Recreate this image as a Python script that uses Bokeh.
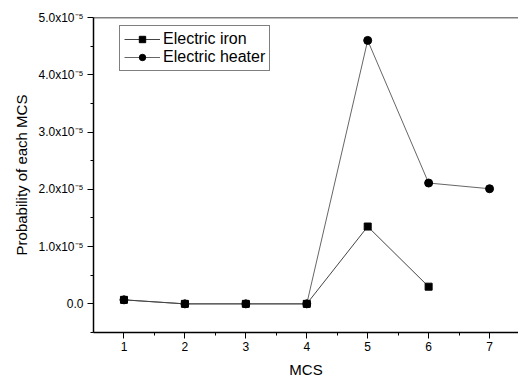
from bokeh.plotting import figure
from bokeh.models import (ColumnDataSource, FixedTicker, CustomJSTickFormatter, Legend, LegendItem,
                          Span, Range1d)
from bokeh.embed import file_html
from bokeh.resources import INLINE

mcs = [1, 2, 3, 4, 5, 6, 7]
iron_x = [1, 2, 3, 4, 5, 6]
iron_y = [0.07e-5, 0.0, 0.0, 0.0, 1.35e-5, 0.30e-5]
heater_x = [1, 2, 3, 4, 5, 6, 7]
heater_y = [0.07e-5, 0.0, 0.0, 0.0, 4.60e-5, 2.11e-5, 2.01e-5]
y_ticks = [0.0, 1e-5, 2e-5, 3e-5, 4e-5, 5e-5]
y_minor = [-0.5e-5, 0.5e-5, 1.5e-5, 2.5e-5, 3.5e-5, 4.5e-5]
x_minor = [1.5, 2.5, 3.5, 4.5, 5.5, 6.5]

FONT = "Liberation Sans"

p = figure(width=518, height=380, output_backend="svg", toolbar_location=None,
           x_range=Range1d(0.5, 7.475), y_range=Range1d(-0.5e-5, 5.0e-5),
           min_border_left=93, min_border_right=0, min_border_top=17, min_border_bottom=48)
p.outline_line_color = None
p.grid.visible = False
p.background_fill_color = "white"
p.border_fill_color = "white"

src_i = ColumnDataSource(dict(x=iron_x, y=iron_y))
src_h = ColumnDataSource(dict(x=heater_x, y=heater_y))

lh = p.line("x", "y", source=src_h, line_color="#666666", line_width=1)
mh = p.scatter("x", "y", source=src_h, marker="circle", size=8, fill_color="black", line_color="black")
li = p.line("x", "y", source=src_i, line_color="#444444", line_width=1)
mi = p.scatter("x", "y", source=src_i, marker="square", size=7, fill_color="black", line_color="black")

xa = p.xaxis[0]
xa.ticker = FixedTicker(ticks=mcs, minor_ticks=x_minor)
xa.axis_label = "MCS"
ya = p.yaxis[0]
ya.ticker = FixedTicker(ticks=y_ticks, minor_ticks=y_minor)
ya.axis_label = "Probability of each MCS"
ya.formatter = CustomJSTickFormatter(code="""
if (Math.abs(tick) < 1e-12) return "0.0";
return (tick*1e5).toFixed(1) + "x10\u207B\u2075";
""")
for ax in (xa, ya):
    ax.axis_line_color = "black"
    ax.axis_line_width = 1.5
    ax.major_tick_line_color = "black"
    ax.minor_tick_line_color = "black"
    ax.major_tick_out = 6
    ax.major_tick_in = 0
    ax.minor_tick_out = 3
    ax.minor_tick_in = 0
    ax.major_label_text_font = FONT
    ax.major_label_text_font_size = "12px"
    ax.major_label_text_color = "black"
    ax.axis_label_text_font = FONT
    ax.axis_label_text_font_size = "15px"
    ax.axis_label_text_font_style = "normal"
    ax.axis_label_text_color = "black"
xa.major_label_standoff = 3
xa.axis_label_standoff = 7
ya.major_label_standoff = 4
ya.axis_label_standoff = 5

top = Span(location=5.0e-5, dimension="width", line_color="black", line_width=1.5)
p.add_layout(top)

legend = Legend(items=[LegendItem(label="Electric iron", renderers=[li, mi]),
                       LegendItem(label="Electric heater", renderers=[lh, mh])],
                location=(26, 261), margin=0, padding=4, spacing=0,
                glyph_width=36, glyph_height=16, label_height=16, label_standoff=3,
                label_text_font=FONT, label_text_font_size="16px", label_text_color="black",
                border_line_color="black", border_line_width=1, background_fill_color="white",
                background_fill_alpha=1)
p.add_layout(legend)

open("out.html", "w").write(file_html(p, INLINE))
